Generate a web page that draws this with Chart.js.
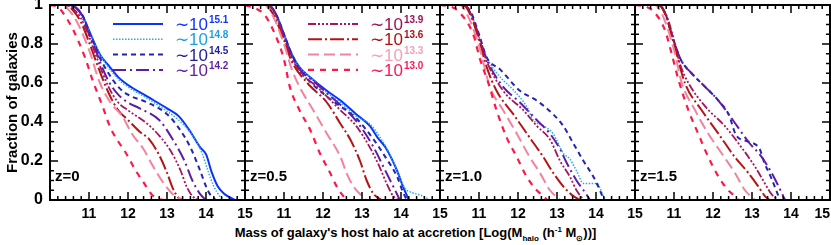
<!DOCTYPE html>
<html>
<head>
<meta charset="utf-8">
<script src="https://cdn.jsdelivr.net/npm/chart.js@4"></script>
<style>
body { margin: 0; background: #fff; }
#wrap { position: relative; width: 831px; height: 245px; overflow: hidden; }
#wrap canvas { position: absolute; top: 0; }
#xtitle { position: absolute; left: 0; top: 225px; width: 831px; text-align: center;
  font: bold 13px "Liberation Sans", Arial, sans-serif; color: #000; }
#xtitle sub, #xtitle sup { font-size: 8px; }
</style>
</head>
<body>
<div id="wrap">
  <canvas id="p0" width="260" height="225" style="left:0px"></canvas>
  <canvas id="p1" width="225" height="225" style="left:230px"></canvas>
  <canvas id="p2" width="225" height="225" style="left:425px"></canvas>
  <canvas id="p3" width="211" height="225" style="left:620px"></canvas>
  <div id="xtitle">Mass of galaxy's host halo at accretion [Log(M<sub>halo</sub> (h<sup>-1</sup> M<sub>&#8857;</sub>))]</div>
</div>
<script>
// halo mass bins (log M), legend order
const massBins = ['15.1', '14.8', '14.5', '14.2', '13.9', '13.6', '13.3', '13.0'];
const zLabels = ['z=0', 'z=0.5', 'z=1.0', 'z=1.5'];

// z = 0   [log M_halo, fraction]
const z0_151 = [[10,1],[10.5,1],[10.7,0.98],[10.85,0.94],[11.0,0.87],[11.15,0.8],[11.3,0.74],[11.5,0.69],[11.75,0.63],[12.0,0.59],[12.5,0.53],[13.0,0.47],[13.3,0.43],[13.6,0.35],[13.85,0.27],[14.0,0.235],[14.15,0.14],[14.3,0.07],[14.45,0.035],[14.6,0.015],[14.75,0]];
const z0_148 = [[10,1],[10.5,1],[10.7,0.98],[10.85,0.94],[11.0,0.87],[11.15,0.8],[11.3,0.74],[11.5,0.68],[11.75,0.62],[12.0,0.58],[12.5,0.52],[13.0,0.455],[13.3,0.41],[13.5,0.37],[13.75,0.3],[13.9,0.24],[14.05,0.15],[14.2,0.07],[14.35,0.02],[14.45,0]];
const z0_145 = [[10,1],[10.5,1],[10.7,0.98],[10.85,0.94],[11.0,0.86],[11.15,0.79],[11.3,0.72],[11.5,0.65],[11.75,0.58],[12.0,0.54],[12.5,0.5],[13.0,0.44],[13.3,0.37],[13.6,0.27],[13.85,0.15],[14.0,0.07],[14.1,0.03],[14.25,0]];
const z0_142 = [[10,1],[10.5,1],[10.7,0.98],[10.85,0.93],[11.0,0.85],[11.15,0.78],[11.3,0.7],[11.5,0.61],[11.75,0.54],[12.0,0.5],[12.3,0.47],[12.8,0.41],[13.15,0.31],[13.45,0.2],[13.65,0.1],[13.85,0.03],[14.0,0]];
const z0_139 = [[10,1],[10.4,1],[10.6,0.98],[10.8,0.93],[11.0,0.84],[11.2,0.73],[11.5,0.58],[11.75,0.5],[12.0,0.46],[12.5,0.39],[12.8,0.33],[13.1,0.25],[13.35,0.15],[13.5,0.07],[13.65,0.02],[13.8,0]];
const z0_136 = [[10,1],[10.4,1],[10.6,0.97],[10.8,0.91],[11.0,0.81],[11.2,0.7],[11.5,0.55],[11.75,0.46],[12.0,0.41],[12.3,0.35],[12.55,0.31],[12.8,0.23],[13.0,0.14],[13.15,0.06],[13.3,0.01],[13.4,0]];
const z0_133 = [[10,1],[10.3,1],[10.5,0.97],[10.7,0.91],[11.0,0.77],[11.28,0.6],[11.55,0.5],[11.85,0.43],[12.1,0.34],[12.4,0.26],[12.65,0.17],[12.9,0.09],[13.15,0.03],[13.4,0]];
const z0_130 = [[10,1],[10.2,0.99],[10.4,0.94],[10.6,0.87],[10.9,0.73],[11.1,0.61],[11.35,0.48],[11.55,0.37],[11.75,0.3],[11.95,0.24],[12.2,0.15],[12.4,0.09],[12.6,0.03],[12.8,0.005],[12.95,0]];

// z = 0.5
const z05_151 = [[10,1],[10.6,1],[10.8,0.95],[11.0,0.85],[11.15,0.77],[11.4,0.68],[11.67,0.63],[12.1,0.56],[12.45,0.51],[12.85,0.44],[13.2,0.38],[13.4,0.32],[13.6,0.27],[13.9,0.15],[14.05,0.07],[14.2,0]];
const z05_148 = [[10,1],[10.6,1],[10.8,0.95],[11.0,0.85],[11.15,0.77],[11.4,0.68],[11.67,0.63],[12.1,0.55],[12.45,0.5],[12.85,0.43],[13.2,0.39],[13.5,0.31],[13.7,0.24],[13.9,0.15],[14.1,0.06],[14.25,0.04],[14.5,0.025],[14.75,0]];
const z05_145 = [[10,1],[10.6,1],[10.8,0.95],[11.0,0.85],[11.15,0.77],[11.4,0.67],[11.7,0.6],[12.1,0.53],[12.45,0.48],[12.85,0.42],[13.3,0.31],[13.6,0.22],[13.9,0.12],[14.05,0.04],[14.15,0]];
const z05_142 = [[10,1],[10.6,1],[10.8,0.95],[11.0,0.84],[11.15,0.76],[11.4,0.67],[11.75,0.61],[12.2,0.53],[12.6,0.46],[12.95,0.38],[13.3,0.27],[13.55,0.17],[13.8,0.07],[13.97,0]];
const z05_139 = [[10,1],[10.6,1],[10.8,0.94],[11.0,0.83],[11.15,0.75],[11.4,0.66],[11.85,0.58],[12.45,0.46],[12.85,0.38],[13.2,0.27],[13.45,0.17],[13.63,0.085],[13.8,0.02],[13.95,0]];
const z05_136 = [[10,1],[10.5,1],[10.7,0.96],[11.0,0.82],[11.2,0.71],[11.6,0.6],[12.1,0.5],[12.45,0.39],[12.7,0.31],[12.95,0.2],[13.12,0.1],[13.3,0.03],[13.5,0]];
const z05_133 = [[10,1],[10.5,1],[10.7,0.95],[11.0,0.8],[11.2,0.67],[11.4,0.58],[11.75,0.46],[12.1,0.34],[12.45,0.22],[12.6,0.14],[12.78,0.07],[13.0,0.02],[13.1,0]];
const z05_130 = [[10,1],[10.3,0.98],[10.5,0.95],[10.77,0.85],[11.0,0.72],[11.15,0.58],[11.4,0.46],[11.67,0.36],[11.92,0.24],[12.18,0.14],[12.35,0.07],[12.52,0.02],[12.6,0]];

// z = 1.0 (no 10^15.1 bin)
const z10_148 = [[10,1],[10.6,1],[10.8,0.95],[11.0,0.84],[11.2,0.73],[11.5,0.64],[11.9,0.56],[12.22,0.48],[12.39,0.41],[12.65,0.38],[12.9,0.34],[13.16,0.24],[13.33,0.21],[13.5,0.15],[13.68,0.085],[14.02,0.085],[14.19,0.02],[14.25,0]];
const z10_145 = [[10,1],[10.6,1],[10.8,0.96],[11.0,0.85],[11.2,0.73],[11.54,0.67],[12.05,0.56],[12.48,0.51],[12.9,0.44],[13.16,0.38],[13.42,0.29],[13.68,0.2],[13.93,0.12],[14.1,0.05],[14.2,0]];
const z10_142 = [[10,1],[10.6,1],[10.8,0.95],[11.0,0.84],[11.2,0.72],[11.62,0.58],[12.05,0.5],[12.48,0.41],[12.82,0.34],[13.08,0.26],[13.25,0.19],[13.5,0.1],[13.68,0.05],[13.85,0]];
const z10_139 = [[10,1],[10.6,1],[10.8,0.95],[11.0,0.83],[11.2,0.71],[11.62,0.56],[12.14,0.46],[12.48,0.38],[12.82,0.31],[13.08,0.2],[13.33,0.12],[13.5,0.05],[13.68,0]];
const z10_136 = [[10,1],[10.6,1],[10.8,0.94],[11.0,0.82],[11.2,0.68],[11.45,0.56],[11.88,0.44],[12.3,0.32],[12.65,0.22],[12.9,0.14],[13.16,0.07],[13.42,0.02],[13.6,0]];
const z10_133 = [[10,1],[10.5,1],[10.7,0.95],[11.0,0.79],[11.28,0.58],[11.62,0.46],[11.97,0.34],[12.3,0.22],[12.56,0.14],[12.82,0.05],[13.08,0]];
const z10_130 = [[10,1],[10.3,0.99],[10.51,0.96],[10.85,0.85],[11.03,0.72],[11.24,0.6],[11.45,0.46],[11.71,0.32],[11.97,0.22],[12.22,0.12],[12.48,0.05],[12.65,0.02],[12.75,0]];

// z = 1.5 (no 10^15.1 / 10^14.8 bins)
const z15_145 = [[10,1],[10.6,1],[10.77,0.96],[10.94,0.85],[11.11,0.75],[11.2,0.71],[11.45,0.65],[11.8,0.58],[12.14,0.51],[12.4,0.44],[12.6,0.33],[12.9,0.3],[13.2,0.26],[13.3,0.2],[13.5,0.11],[13.62,0.05],[13.72,0]];
const z15_142 = [[10,1],[10.6,1],[10.77,0.96],[10.94,0.85],[11.11,0.75],[11.2,0.71],[11.45,0.65],[11.8,0.58],[12.14,0.51],[12.4,0.44],[12.65,0.37],[12.9,0.3],[13.25,0.22],[13.5,0.14],[13.68,0.07],[13.8,0.02],[13.85,0]];
const z15_139 = [[10,1],[10.6,1],[10.8,0.95],[11.0,0.82],[11.15,0.7],[11.37,0.6],[11.8,0.48],[12.3,0.38],[12.73,0.27],[13.08,0.17],[13.33,0.085],[13.5,0.03],[13.68,0]];
const z15_136 = [[10,1],[10.6,1],[10.8,0.94],[11.0,0.8],[11.28,0.6],[11.71,0.46],[12.14,0.34],[12.56,0.22],[12.9,0.14],[13.16,0.07],[13.33,0.02],[13.45,0]];
const z15_133 = [[10,1],[10.5,1],[10.7,0.95],[11.0,0.77],[11.2,0.6],[11.54,0.46],[11.88,0.34],[12.22,0.24],[12.56,0.14],[12.82,0.05],[13.08,0]];
const z15_130 = [[10,1],[10.3,0.99],[10.51,0.96],[10.77,0.87],[10.94,0.75],[11.11,0.62],[11.37,0.46],[11.62,0.34],[11.88,0.22],[12.14,0.12],[12.39,0.05],[12.56,0.02],[12.65,0]];

const panels = [
  [z0_151, z0_148, z0_145, z0_142, z0_139, z0_136, z0_133, z0_130],
  [z05_151, z05_148, z05_145, z05_142, z05_139, z05_136, z05_133, z05_130],
  [null, z10_148, z10_145, z10_142, z10_139, z10_136, z10_133, z10_130],
  [null, null, z15_145, z15_142, z15_139, z15_136, z15_133, z15_130]
];

// styles
const lineColors = ['#0a32ff', '#2aaae8', '#2424b4', '#5e1ca8', '#a8145e', '#b41414', '#f5829e', '#ff1848'];
const textColors = ['#1034ff', '#1ea0e0', '#1e1e96', '#5e1e9e', '#a01050', '#b01010', '#f5a0b6', '#ff1450'];
const dashes = [[], [1.5, 1.5], [5, 4], [13, 4, 2, 4], [8, 2, 2, 2, 2, 2, 2, 2], [14, 3, 2, 3], [11, 5], [6, 6]];
const widths = [2, 1.5, 2, 2, 1.8, 2, 2, 2.2];
const FONT = '"Liberation Sans", Arial, sans-serif';
// canvas padding around each 195px wide plot box
const pads = [[0, 15], [15, 15], [15, 15], [15, 1]];

const frameTicks = {
  id: 'frameTicks',
  afterDraw(chart) {
    const { ctx, chartArea: a, scales: { x, y } } = chart;
    ctx.save();
    ctx.strokeStyle = '#000';
    ctx.lineWidth = 1.5;
    ctx.beginPath();
    for (let i = 0; i <= 25; i++) {
      const px = x.getPixelForValue(10 + i * 0.2);
      const len = i % 5 === 0 ? 8 : 4;
      ctx.moveTo(px, a.bottom); ctx.lineTo(px, a.bottom - len);
      ctx.moveTo(px, a.top); ctx.lineTo(px, a.top + len);
    }
    for (let i = 0; i <= 20; i++) {
      const py = y.getPixelForValue(i * 0.05);
      const len = i % 4 === 0 ? 8 : 4;
      ctx.moveTo(a.left, py); ctx.lineTo(a.left + len, py);
      ctx.moveTo(a.right, py); ctx.lineTo(a.right - len, py);
    }
    ctx.stroke();
    ctx.lineWidth = 2;
    ctx.strokeRect(a.left, a.top, a.width, a.height);
    ctx.restore();
  }
};

const panelText = {
  id: 'panelText',
  afterDatasetsDraw(chart, args, opts) {
    const { ctx, chartArea: a } = chart;
    ctx.save();
    ctx.fillStyle = '#000';
    ctx.font = 'bold 15px ' + FONT;
    ctx.textBaseline = 'alphabetic';
    ctx.fillText(opts.zLabel, a.left + 5, a.bottom - 19);
    (opts.legend || []).forEach((k, row) => {
      const yy = a.top + 19 + row * 15.3;
      ctx.strokeStyle = lineColors[k];
      ctx.lineWidth = widths[k];
      ctx.setLineDash(dashes[k]);
      ctx.beginPath();
      ctx.moveTo(a.left + 63, yy);
      ctx.lineTo(a.left + 113, yy);
      ctx.stroke();
      ctx.setLineDash([]);
      ctx.fillStyle = textColors[k];
      ctx.font = '17px ' + FONT;
      const base = '\u223C10';
      ctx.fillText(base, a.left + 125, yy + 6);
      const w = ctx.measureText(base).width;
      ctx.font = 'bold 10px ' + FONT;
      ctx.fillText(massBins[k], a.left + 126 + w, yy - 1);
    });
    ctx.restore();
  }
};

function makePanel(idx) {
  const first = idx === 0;
  const last = idx === 3;
  const datasets = [];
  panels[idx].forEach((pts, k) => {
    if (!pts) return;
    datasets.push({
      label: massBins[k],
      data: pts.map(p => ({ x: p[0], y: p[1] })),
      borderColor: lineColors[k],
      borderWidth: widths[k],
      borderDash: dashes[k],
      pointRadius: 0,
      fill: false,
      cubicInterpolationMode: 'monotone'
    });
  });
  // draw low-mass bins first so the high-mass ones sit on top
  datasets.reverse();
  new Chart(document.getElementById('p' + idx), {
    type: 'line',
    data: { datasets: datasets },
    options: {
      responsive: false,
      animation: false,
      layout: { padding: { left: pads[idx][0], right: pads[idx][1], top: 5, bottom: 0 } },
      plugins: {
        legend: { display: false },
        tooltip: { enabled: false },
        panelText: { zLabel: zLabels[idx], legend: idx === 0 ? [0, 1, 2, 3] : idx === 1 ? [4, 5, 6, 7] : [] }
      },
      scales: {
        x: {
          type: 'linear', min: 10, max: 15,
          grid: { display: false, drawTicks: false },
          border: { display: false },
          ticks: {
            stepSize: 1, padding: 6, color: '#000', maxRotation: 0,
            align: last ? 'inner' : 'center',
            font: { family: FONT, size: 14, weight: 'bold' },
            callback: v => (v === 10 ? '' : String(v))
          },
          afterFit(s) { s.height = 25; s.paddingLeft = 0; s.paddingRight = 0; }
        },
        y: {
          display: first, min: 0, max: 1,
          grid: { display: false, drawTicks: false },
          border: { display: false },
          ticks: {
            stepSize: 0.2, padding: 7, color: '#000',
            font: { family: FONT, size: 16, weight: 'bold' },
            callback: v => (v === 0 || v === 1 ? String(v) : v.toFixed(1))
          },
          title: {
            display: first, text: 'Fraction of galaxies', color: '#000',
            font: { family: FONT, size: 15, weight: 'bold' },
            padding: { top: 4, bottom: 0 }
          },
          afterFit(s) { if (first) { s.width = 50; } s.paddingTop = 0; s.paddingBottom = 0; }
        }
      }
    },
    plugins: [panelText, frameTicks]
  });
}

[0, 1, 2, 3].forEach(makePanel);
</script>
</body>
</html>
